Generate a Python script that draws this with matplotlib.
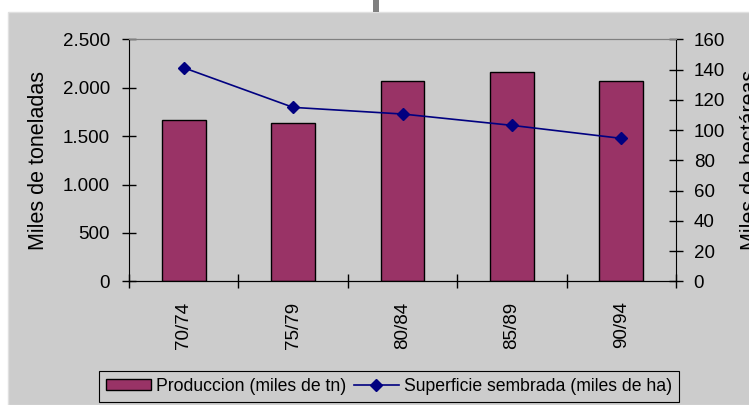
import matplotlib
matplotlib.use("Agg")
import matplotlib.pyplot as plt
from matplotlib.patches import Rectangle
import numpy as np

plt.rcParams['font.family'] = ['Liberation Sans', 'DejaVu Sans']

# data
periodos = ["70/74", "75/79", "80/84", "85/89", "90/94"]
produccion = [1665, 1632, 2072, 2160, 2072]      # miles de tn
superficie = [141.2, 115.0, 110.6, 103.1, 94.5]  # miles de ha

gris = "#cccccc"
bordo = "#993366"
azul = "#000080"

fig = plt.figure(figsize=(7.49, 4.05), dpi=100, facecolor="white")
# chart area background (behind the axes)
fig.patches.append(Rectangle((8 / 749, 0), 1, (405 - 12) / 405, transform=fig.transFigure,
                             facecolor=gris, edgecolor="#e0e0e0", lw=1, zorder=-2))
fig.patches.append(Rectangle((372.5 / 749, (405 - 12) / 405), 6 / 749, 12 / 405,
                             transform=fig.transFigure, facecolor="#808080", lw=0, zorder=-2))

ax = fig.add_axes([129 / 749, (405 - 281.3) / 405, 547 / 749, 242 / 405])
ax.set_facecolor(gris)
x = np.arange(len(periodos))
barras = ax.bar(x, produccion, width=0.4, color=bordo, edgecolor="black", linewidth=1,
                label="Produccion (miles de tn)", zorder=2)
ax.set_xlim(-0.5, len(periodos) - 0.5)
ax.set_ylim(0, 2500)
ax.set_yticks([0, 500, 1000, 1500, 2000, 2500])
ax.set_yticklabels(["0", "500", "1.000", "1.500", "2.000", "2.500"])
ax.set_xticks(x)
ax.set_xticklabels(periodos, rotation=90)
ax.set_xticks(np.arange(-0.5, len(periodos)), minor=True)
ax.tick_params(axis="x", which="major", length=0, pad=14.5, labelsize=13.5)
ax.tick_params(axis="x", which="minor", direction="inout", length=9.5, width=1)
ax.tick_params(axis="y", direction="inout", length=9.5, width=1, pad=9, labelsize=13.5)
ax.spines["top"].set_color("#808080")
ax.spines["right"].set_visible(False)

ax2 = ax.twinx()
linea, = ax2.plot(x, superficie, color=azul, lw=1.2, marker="D", markersize=6.5,
                  label="Superficie sembrada (miles de ha)", zorder=3)
ax2.set_ylim(0, 160)
ax2.set_yticks(range(0, 161, 20))
ax2.tick_params(axis="y", direction="inout", length=9.5, width=1, pad=8, labelsize=13.5)
ax2.spines["top"].set_color("#808080")
ax2.spines["left"].set_visible(False)

fig.text(39 / 749, 1 - 160 / 405, "Miles de toneladas", rotation=90, ha="center", va="center",
         fontsize=15.5)
fig.text(751 / 749, 1 - 160 / 405, "Miles de hectáreas", rotation=90, ha="center", va="center",
         fontsize=15.5)

leg = fig.legend([barras, linea], ["Produccion (miles de tn)", "Superficie sembrada (miles de ha)"],
                 loc="upper left", bbox_to_anchor=(99 / 749, 1 - 370.7 / 405), ncol=2,
                 fontsize=12.7, frameon=True, fancybox=False, facecolor=gris, edgecolor="black",
                 framealpha=1, borderaxespad=0, handlelength=2.55, handletextpad=0.3,
                 columnspacing=0.4, handleheight=0.65, borderpad=0.4)
leg.get_frame().set_linewidth(0.8)

fig.savefig("out.png", dpi=100)
